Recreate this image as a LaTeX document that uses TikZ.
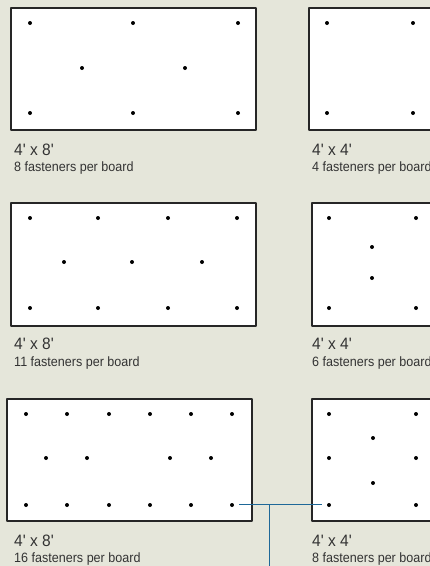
\documentclass[tikz,border=0pt]{standalone}
\usepackage{fontspec}
\newfontfamily\sizefont[FakeStretch=0.94]{Liberation Sans}
\newfontfamily\countfont[FakeStretch=0.93]{Liberation Sans}
\definecolor{paper}{RGB}{229,230,218}
\definecolor{leadblue}{RGB}{30,104,152}
\begin{document}
\begin{tikzpicture}[x=1pt,y=-1pt,line join=round,
	board/.style={draw=black!85,line width=1.5pt,fill=white},
	sizelbl/.style={anchor=base west,inner sep=0pt,font=\sizefont\fontsize{16.5}{17}\selectfont,text=black!80},
	countlbl/.style={anchor=base west,inner sep=0pt,font=\countfont\fontsize{13.5}{14}\selectfont,text=black!80},
	lead/.style={leadblue,line width=0.9pt}]
	\useasboundingbox (0,0) rectangle (430,566);
	\clip (0,0) rectangle (430,566);
	\fill[paper] (0,0) rectangle (430,566);
	% boards
	\draw[board] (11,8) rectangle (256,130);
	\draw[board] (309,8) rectangle (445,130);
	\draw[board] (11,203) rectangle (256,326);
	\draw[board] (312,203) rectangle (445,326);
	\draw[board] (7,399) rectangle (252,521);
	\draw[board] (312,399) rectangle (445,521);
	% fasteners
	\foreach \x/\y in {30/23,133/23,238/23,82/68,185/68,30/113,133/113,238/113,
		327/23,413/23,327/113,413/113,
		30/218,98/218,168/218,237/218,64/262,132/262,202/262,30/308,98/308,168/308,237/308,
		329/218,416/218,372/247,372/278,329/308,416/308,
		26/414,67/414,109/414,150/414,191/414,232/414,46/458,87/458,170/458,211/458,
		26/505,67/505,109/505,150/505,191/505,
		329/414,416/414,373/438,329/458,416/458,373/483,416/505}
	\fill (\x,\y) circle (2pt);
	\fill (232,505) circle (2pt) coordinate (lastA);
	\fill (329,505) circle (2pt) coordinate (firstB);
	% labels
	\node[sizelbl] (s1) at (14,155) {4' x 8'};
	\node[countlbl] (c1) at (14,171) {8 fasteners per board};
	\node[sizelbl] (s2) at (312,155) {4' x 4'};
	\node[countlbl] (c2) at (312,171) {4 fasteners per board};
	\node[sizelbl] (s3) at (14,349) {4' x 8'};
	\node[countlbl] (c3) at (14,366) {11 fasteners per board};
	\node[sizelbl] (s4) at (312,349) {4' x 4'};
	\node[countlbl] (c4) at (312,366) {6 fasteners per board};
	\node[sizelbl] (s5) at (14,546) {4' x 8'};
	\node[countlbl] (c5) at (14,562) {16 fasteners per board};
	\node[sizelbl] (s6) at (312,546) {4' x 4'};
	\node[countlbl] (c6) at (312,562) {8 fasteners per board};
	% leader
	\coordinate (tap) at (269,504);
	\coordinate (tail) at (269,570);
	\draw[lead] ([xshift=7pt,yshift=1pt]lastA) -- ([xshift=-7pt,yshift=1pt]firstB);
	\draw[lead] (tap) -- (tail);
\end{tikzpicture}
\end{document}
